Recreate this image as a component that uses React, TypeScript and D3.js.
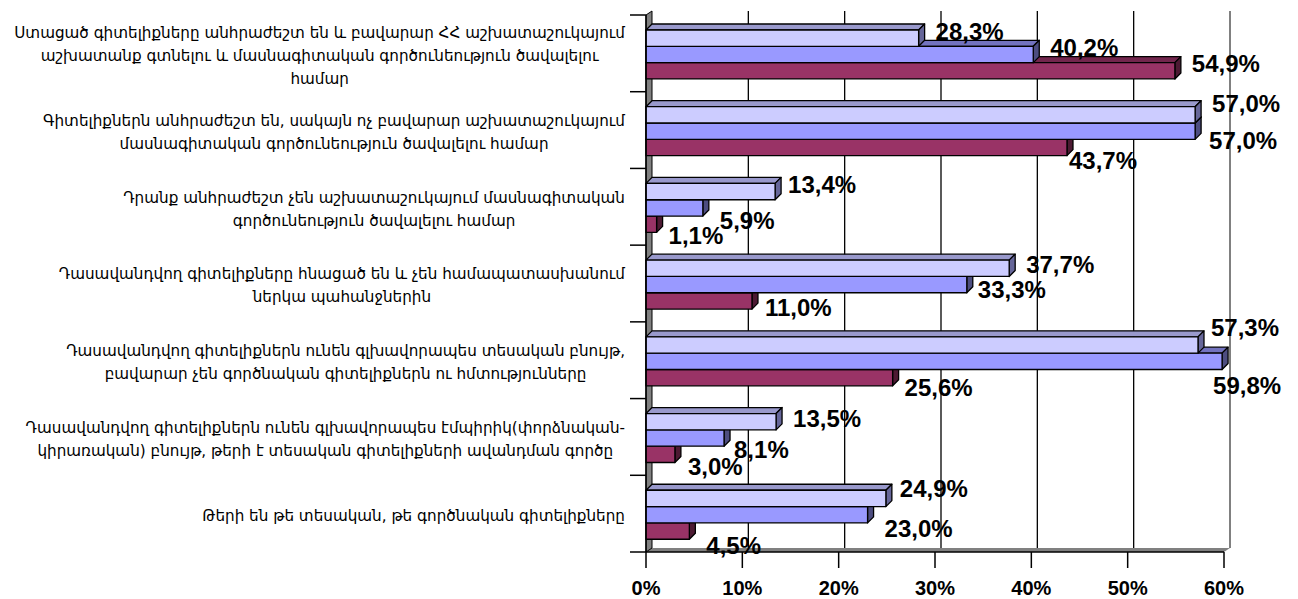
import React, { useRef, useEffect } from 'react';
import * as d3 from 'd3';

// category labels, one entry per wrapped line (as in the source)
const categories: string[][] = [
  ['Ստացած գիտելիքները անհրաժեշտ են և բավարար ՀՀ աշխատաշուկայում', 'աշխատանք գտնելու և մասնագիտական գործունեություն ծավալելու', 'համար'],
  ['Գիտելիքներն անհրաժեշտ են, սակայն ոչ բավարար աշխատաշուկայում', 'մասնագիտական գործունեություն ծավալելու համար'],
  ['Դրանք անհրաժեշտ չեն աշխատաշուկայում մասնագիտական', 'գործունեություն ծավալելու համար'],
  ['Դասավանդվող գիտելիքները հնացած են և չեն համապատասխանում', 'ներկա պահանջներին'],
  ['Դասավանդվող գիտելիքներն ունեն գլխավորապես տեսական բնույթ,', 'բավարար չեն գործնական գիտելիքներն ու հմտությունները'],
  ['Դասավանդվող գիտելիքներն ունեն գլխավորապես էմպիրիկ(փորձնական-', 'կիրառական) բնույթ, թերի է տեսական գիտելիքների ավանդման գործը'],
  ['Թերի են թե տեսական, թե գործնական գիտելիքները'],
];

const seriesA = [28.3, 57.0, 13.4, 37.7, 57.3, 13.5, 24.9];
const seriesB = [40.2, 57.0, 5.9, 33.3, 59.8, 8.1, 23.0];
const seriesC = [54.9, 43.7, 1.1, 11.0, 25.6, 3.0, 4.5];

const xTicks = [0, 10, 20, 30, 40, 50, 60];

// small nudges of the value labels, as Excel placed them to avoid overlaps
const nudgeA: [number, number][] = [[0, 0], [0, -4], [-4, 0], [0, 3], [-4, -11], [0, 4], [-3, -3]];
const nudgeB: [number, number][] = [[0, 0], [-3, 16], [0, 19], [-6, 12], [-26, 31], [-7, 18], [0, 21]];
const nudgeC: [number, number][] = [[0, 0], [-15, 20], [-5, 18], [-4, 13], [-5, 17], [-4, 19], [0, 21]];

const W = 1298;
const H = 599;

const App: React.FC = () => {
  const svgRef = useRef<SVGSVGElement>(null);

  useEffect(() => {
    if (!svgRef.current) return;
    const svg = d3.select(svgRef.current);
    svg.selectAll('*').remove();

    const x = d3.scaleLinear().domain([0, 60]).range([646, 1224]);
    const y = d3.scaleBand<number>()
      .domain(categories.map((_, i) => i))
      .range([15, 552]);
    const inner = d3.scaleBand<string>()
      .domain(['A', 'B', 'C'])
      .range([0, y.bandwidth()])
      .paddingInner(0)
      .paddingOuter(0.85)
      .align(0.54);

    // wall / bar depth
    const wdx = 6, wdy = -4;
    const bdx = 6, bdy = -6;
    const top = y.range()[0];
    const bottom = y.range()[1];

    // back gridlines
    xTicks.forEach(t => {
      if (t === 0 || t === 60) return;
      svg.append('line')
        .attr('x1', x(t) + wdx).attr('x2', x(t) + wdx)
        .attr('y1', top + wdy).attr('y2', bottom + wdy)
        .attr('stroke', '#000').attr('stroke-width', 1.3);
    });
    // right edge of back wall
    svg.append('line')
      .attr('x1', x(60) + wdx).attr('x2', x(60) + wdx)
      .attr('y1', top + wdy).attr('y2', bottom + wdy)
      .attr('stroke', '#808080').attr('stroke-width', 2);

    // floor
    svg.append('path')
      .attr('d', `M${x(0)},${bottom}L${x(60)},${bottom}L${x(60) + wdx},${bottom + wdy}L${x(0) + wdx},${bottom + wdy}Z`)
      .attr('fill', '#808080');
    // left wall
    svg.append('path')
      .attr('d', `M${x(0)},${bottom}L${x(0)},${top}L${x(0) + wdx},${top + wdy}L${x(0) + wdx},${bottom + wdy}Z`)
      .attr('fill', '#808080')
      .attr('stroke', '#000')
      .attr('stroke-width', 1);

    // bars: bottom series first so upper bars sit in front
    const series = [
      { key: 'C', values: seriesC, front: '#993366', topc: '#73264d', side: '#4d1a33', nudge: nudgeC },
      { key: 'B', values: seriesB, front: '#9999ff', topc: '#7373bf', side: '#4d4d80', nudge: nudgeB },
      { key: 'A', values: seriesA, front: '#ccccff', topc: '#9999cc', side: '#666699', nudge: nudgeA },
    ];

    categories.forEach((_, ci) => {
      series.forEach(s => {
        const v = s.values[ci];
        const x0 = x(0);
        const x1 = x(v);
        const y0 = (y(ci) as number) + (inner(s.key) as number);
        const h = inner.bandwidth();
        const g = svg.append('g')
          .attr('stroke', '#000')
          .attr('stroke-width', 1.3)
          .attr('stroke-linejoin', 'round');
        // top face
        g.append('path')
          .attr('d', `M${x0},${y0}L${x0 + bdx},${y0 + bdy}L${x1 + bdx},${y0 + bdy}L${x1},${y0}Z`)
          .attr('fill', s.topc);
        // side face
        g.append('path')
          .attr('d', `M${x1},${y0}L${x1 + bdx},${y0 + bdy}L${x1 + bdx},${y0 + h + bdy}L${x1},${y0 + h}Z`)
          .attr('fill', s.side);
        // front face
        g.append('rect')
          .attr('x', x0).attr('y', y0)
          .attr('width', x1 - x0).attr('height', h)
          .attr('fill', s.front);
      });
    });

    // left axis line and ticks
    svg.append('line')
      .attr('x1', x(0)).attr('x2', x(0))
      .attr('y1', top).attr('y2', bottom)
      .attr('stroke', '#000').attr('stroke-width', 1.5);
    d3.range(categories.length + 1).forEach(i => {
      const yy = top + i * y.step();
      svg.append('line')
        .attr('x1', x(0) - 16).attr('x2', x(0))
        .attr('y1', yy).attr('y2', yy)
        .attr('stroke', '#000').attr('stroke-width', 1.5);
    });

    // bottom axis
    svg.append('line')
      .attr('x1', x(0)).attr('x2', x(60))
      .attr('y1', bottom).attr('y2', bottom)
      .attr('stroke', '#000').attr('stroke-width', 1.5);
    xTicks.forEach(t => {
      svg.append('line')
        .attr('x1', x(t)).attr('x2', x(t))
        .attr('y1', bottom).attr('y2', bottom + 16)
        .attr('stroke', '#000').attr('stroke-width', 1.5);
      svg.append('text')
        .attr('x', x(t))
        .attr('y', 595)
        .attr('text-anchor', 'middle')
        .attr('font-family', 'Liberation Sans, Arial, sans-serif')
        .attr('font-weight', 'bold')
        .attr('font-size', '20px')
        .text(`${t}%`);
    });

    // value labels
    const fmt = (v: number) => v.toFixed(1).replace('.', ',') + '%';
    categories.forEach((_, ci) => {
      series.forEach(s => {
        const v = s.values[ci];
        const yc = (y(ci) as number) + (inner(s.key) as number) + inner.bandwidth() / 2 - 7;
        const [nx, ny] = s.nudge[ci];
        svg.append('text')
          .attr('x', x(v) + bdx + 11 + nx)
          .attr('y', yc + ny)
          .attr('dy', '0.36em')
          .attr('font-family', 'Liberation Sans, Arial, sans-serif')
          .attr('font-weight', 'bold')
          .attr('font-size', '24px')
          .attr('fill', '#000')
          .text(fmt(v));
      });
    });

    // category labels: block right-aligned to the axis, lines centred in it
    const labelRight = 625;
    const lineH = 23;
    categories.forEach((lines, ci) => {
      const g = svg.append('g');
      const texts = lines.map(l => g.append('text')
        .attr('font-family', 'DejaVu Sans, sans-serif')
        .attr('font-size', '15.2px')
        .attr('fill', '#000')
        .attr('text-anchor', 'middle')
        .text(l));
      const widths = texts.map(t => (t.node() as SVGTextElement).getComputedTextLength());
      const blockW = d3.max(widths) || 0;
      const cx = labelRight - blockW / 2;
      const cy = (y(ci) as number) + y.bandwidth() / 2 + 2;
      texts.forEach((t, li) => {
        t.attr('x', cx)
          .attr('y', cy + (li - (lines.length - 1) / 2) * lineH)
          .attr('dy', '0.35em');
      });
    });
  }, []);

  return (
    <svg
      ref={svgRef}
      width={W}
      height={H}
      style={{ position: 'absolute', left: 0, top: 0, background: '#fff' }}
    />
  );
};

export default App;
